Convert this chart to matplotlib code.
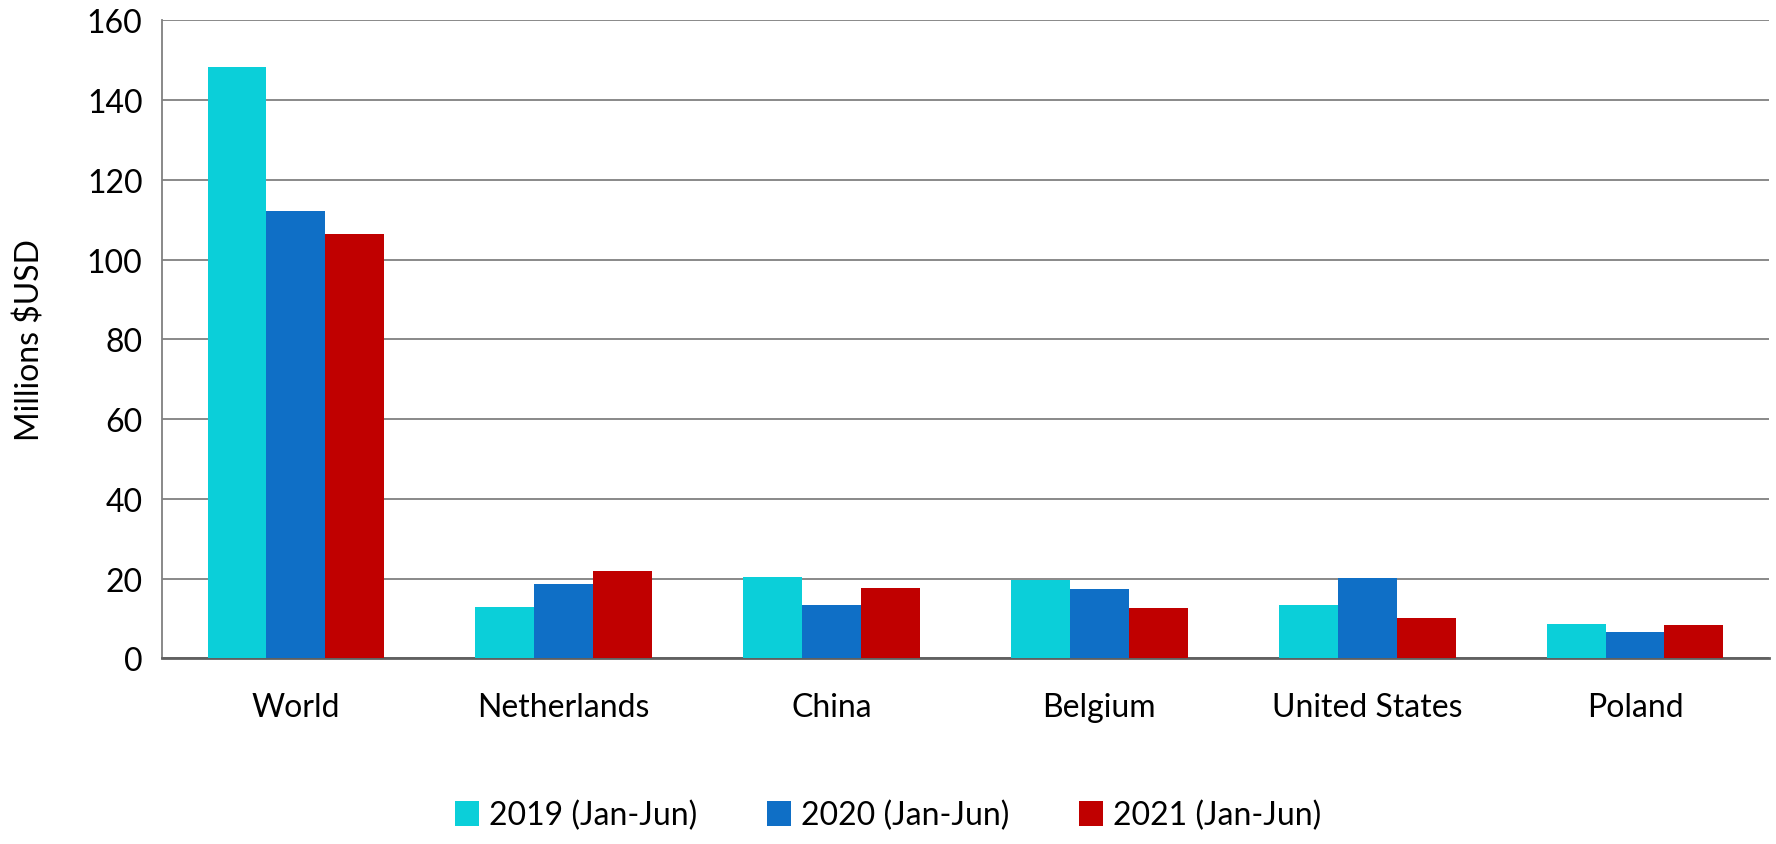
import numpy as np
import matplotlib.pyplot as plt

# 數據
countries = ["World", "Netherlands", "China", "Belgium", "United States", "Poland"]
v2019 = [148.3, 12.9, 20.3, 19.7, 13.5, 8.7]
v2020 = [112.3, 18.7, 13.5, 17.3, 20.1, 6.6]
v2021 = [106.4, 22.0, 17.6, 12.6, 10.0, 8.4]
labels = ["2019 (Jan-Jun)", "2020 (Jan-Jun)", "2021 (Jan-Jun)"]
colors = ["#0BCFD9", "#0F6FC6", "#C00000"]

plt.rcParams['font.family'] = ['Lato', 'DejaVu Sans']

fig = plt.figure(figsize=(17.76, 8.45), dpi=100)
ax = fig.add_axes([0.0912, 0.2197, 0.9048, 0.755])

x = np.arange(len(countries))
w = 0.22
for i, (vals, lab, c) in enumerate(zip([v2019, v2020, v2021], labels, colors)):
    ax.bar(x + (i - 1) * w, vals, width=w, color=c, label=lab, zorder=3)

ax.set_xlim(-0.5, len(countries) - 0.5)
ax.set_ylim(0, 160)
ax.set_yticks(range(0, 161, 20))
ax.set_xticks(x)
ax.set_xticklabels(countries)
ax.tick_params(axis='both', length=0, labelsize=23)
ax.tick_params(axis='x', pad=24)
ax.tick_params(axis='y', pad=14)
ax.yaxis.grid(True, color='#808080', linewidth=1.3, zorder=0)
ax.set_ylabel("Millions $USD", fontsize=23, labelpad=30)

for s in ['top', 'right']:
    ax.spines[s].set_visible(False)
ax.spines['left'].set_color('#808080')
ax.spines['left'].set_linewidth(1.3)
ax.spines['bottom'].set_color('#606060')
ax.spines['bottom'].set_linewidth(2)

fig.legend(loc='lower center', ncol=3, frameon=False, fontsize=23,
           bbox_to_anchor=(0.5, -0.018), handlelength=0.75, handleheight=0.8,
           columnspacing=2.2, handletextpad=0.3)

plt.savefig('out.png', dpi=100)
